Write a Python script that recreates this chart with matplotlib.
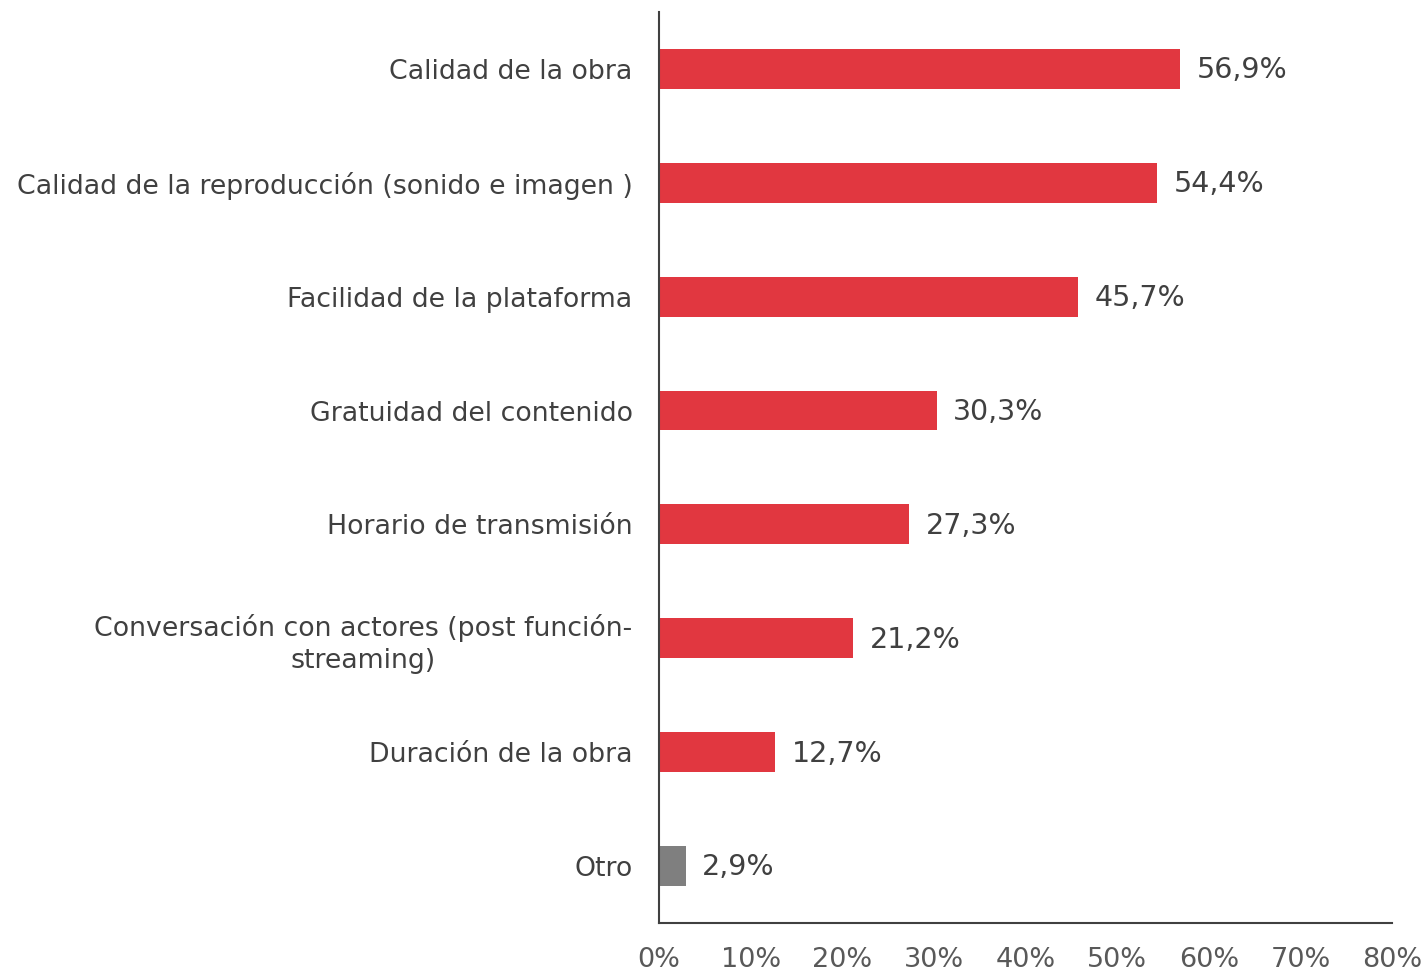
import matplotlib
matplotlib.use('Agg')
from matplotlib import pyplot as plt

# Data
categories = ['Calidad de la obra',
              'Calidad de la reproducción (sonido e imagen )',
              'Facilidad de la plataforma',
              'Gratuidad del contenido',
              'Horario de transmisión',
              'Conversación con actores (post función-\nstreaming)',
              'Duración de la obra',
              'Otro']
values = [56.9, 54.4, 45.7, 30.3, 27.3, 21.2, 12.7, 2.9]
value_labels = ['56,9%', '54,4%', '45,7%', '30,3%', '27,3%', '21,2%', '12,7%', '2,9%']
xticks = [0, 10, 20, 30, 40, 50, 60, 70, 80]
xtick_labels = ['0%', '10%', '20%', '30%', '40%', '50%', '60%', '70%', '80%']

red = '#E13740'
grey = '#7F7F7F'
text_color = '#404040'

plt.rcParams['font.family'] = ['DejaVu Sans']

fig = plt.figure(figsize=(14.26, 9.73), dpi=100)
ax = fig.add_axes([0.4621, 0.0514, 0.5141, 0.9363])

colors = [red] * (len(values) - 1) + [grey]
ypos = list(range(len(categories)))
ax.barh(ypos, values, height=0.35, color=colors)

for y, v, lab in zip(ypos, values, value_labels):
    ax.annotate(lab, (v, y), xytext=(12, -1), textcoords='offset points',
                va='center', ha='left', fontsize=20.5, color=text_color)

ax.set_xlim(0, 80)
ax.set_ylim(7.5, -0.5)
ax.set_xticks(xticks)
ax.set_xticklabels(xtick_labels, fontsize=19.5, color='#595959')
ax.set_yticks(ypos)
ax.set_yticklabels(categories, fontsize=19.3, color=text_color)
for lbl in ax.get_yticklabels():
    lbl.set_multialignment('center')
    lbl.set_linespacing(1.3)
ax.tick_params(axis='both', length=0)
ax.tick_params(axis='x', pad=17)
ax.tick_params(axis='y', pad=19)

for side in ['top', 'right']:
    ax.spines[side].set_visible(False)
for side in ['left', 'bottom']:
    ax.spines[side].set_color(text_color)
    ax.spines[side].set_linewidth(1.5)

plt.savefig('out.png', dpi=100)
plt.close()
